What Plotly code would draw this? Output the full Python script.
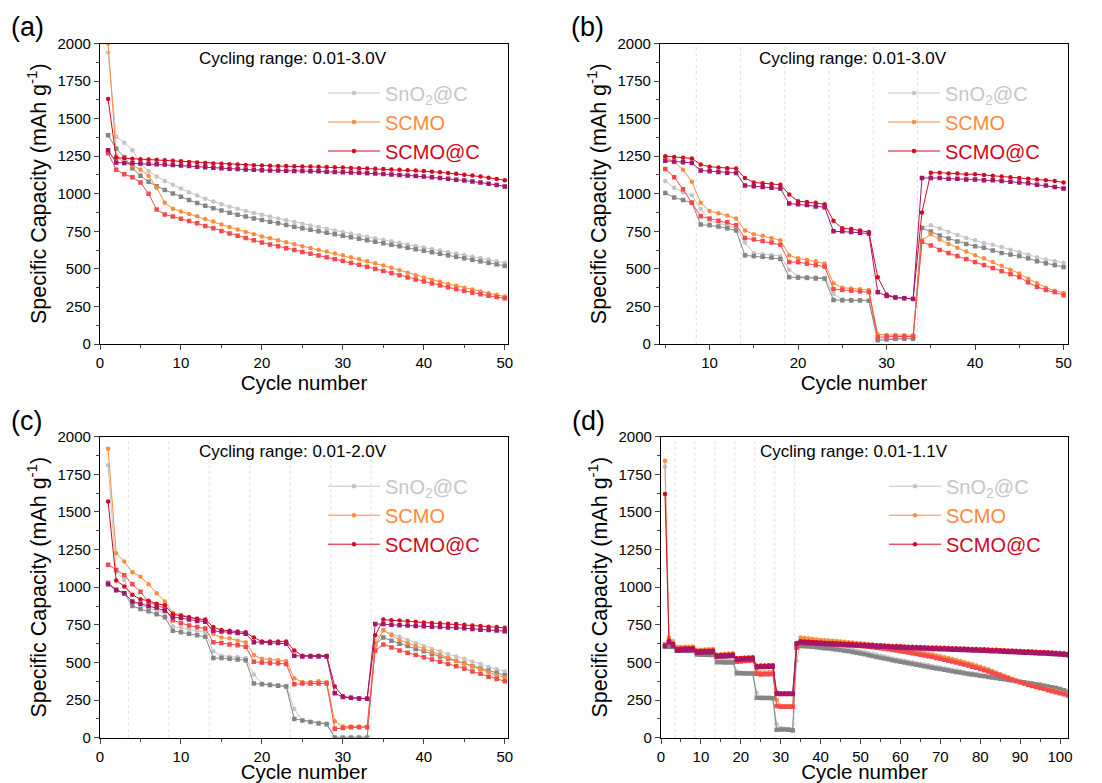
import plotly.graph_objects as go

# ---------------- data ----------------
cycles_a = list(range(1, 51))
a_sno2_charge = [1940, 1380, 1340, 1290, 1200, 1150, 1115, 1085, 1060, 1035,
                 1010, 988, 966, 948, 930, 914, 900, 886, 872, 860,
                 848, 836, 824, 812, 800, 789, 778, 767, 756, 745,
                 735, 724, 714, 704, 694, 684, 674, 663, 652, 642,
                 632, 622, 612, 602, 592, 582, 572, 562, 551, 540]
a_sno2_dis = [1390, 1300, 1245, 1170, 1120, 1080, 1050, 1025, 1002, 980,
              958, 938, 920, 904, 888, 874, 860, 848, 836, 825,
              814, 803, 792, 781, 770, 760, 750, 740, 730, 720,
              710, 700, 690, 680, 670, 660, 650, 640, 630, 620,
              610, 600, 590, 580, 570, 560, 550, 540, 530, 520]
a_scmo_charge = [2000, 1250, 1205, 1190, 1160, 1120, 1040, 940, 900, 882,
                 866, 850, 832, 815, 796, 778, 762, 746, 731, 716,
                 703, 690, 677, 664, 651, 639, 627, 615, 603, 591,
                 578, 565, 551, 537, 522, 507, 491, 474, 458, 442,
                 428, 414, 400, 387, 374, 362, 350, 338, 327, 316]
a_scmo_dis = [1270, 1160, 1130, 1110, 1075, 1000, 895, 862, 848, 834,
              818, 803, 786, 770, 752, 735, 720, 705, 690, 676,
              663, 650, 637, 625, 613, 601, 589, 577, 565, 553,
              540, 527, 514, 500, 486, 472, 457, 443, 429, 416,
              403, 390, 377, 365, 353, 342, 331, 321, 312, 304]
a_scmoc_charge = [1630, 1240, 1236, 1233, 1230, 1228, 1226, 1223, 1220, 1216,
                  1212, 1208, 1205, 1202, 1199, 1196, 1194, 1192, 1190, 1188,
                  1186, 1185, 1184, 1183, 1182, 1181, 1180, 1178, 1176, 1174,
                  1172, 1170, 1168, 1166, 1164, 1162, 1160, 1157, 1154, 1151,
                  1147, 1143, 1138, 1133, 1127, 1121, 1114, 1107, 1099, 1090]
a_scmoc_dis = [1290, 1208, 1205, 1203, 1201, 1199, 1197, 1195, 1192, 1188,
               1184, 1180, 1176, 1173, 1170, 1167, 1164, 1161, 1159, 1157,
               1155, 1154, 1153, 1152, 1151, 1150, 1149, 1147, 1145, 1143,
               1141, 1139, 1137, 1134, 1131, 1128, 1125, 1122, 1118, 1114,
               1110, 1105, 1100, 1094, 1088, 1082, 1075, 1067, 1058, 1048]

cycles_b = list(range(5, 51))
b_sno2_charge = [1085, 1040, 1010, 990, 900, 820, 805, 790, 770, 675,
                 605, 598, 592, 586, 495, 450, 446, 444, 440, 335,
                 296, 294, 292, 290, 32, 36, 40, 40, 40, 775,
                 790, 768, 745, 725, 706, 690, 672, 660, 645, 627,
                 612, 594, 578, 563, 552, 540]
b_sno2_dis = [1005, 975, 958, 940, 795, 790, 782, 770, 755, 590,
              585, 580, 575, 566, 445, 442, 440, 436, 435, 293,
              291, 290, 290, 288, 25, 30, 34, 35, 35, 772,
              748, 722, 702, 683, 666, 650, 640, 622, 606, 595,
              585, 570, 551, 537, 525, 512]
b_scmo_charge = [1245, 1210, 1160, 1080, 940, 885, 870, 855, 835, 755,
                 730, 720, 705, 690, 590, 570, 560, 550, 535, 405,
                 375, 370, 365, 360, 65, 60, 60, 58, 58, 690,
                 730, 695, 665, 640, 615, 590, 570, 545, 520, 495,
                 470, 435, 405, 375, 355, 340]
b_scmo_dis = [1165, 1110, 1030, 940, 850, 835, 820, 810, 790, 705,
              695, 685, 675, 660, 545, 545, 535, 525, 515, 365,
              360, 355, 350, 345, 45, 50, 50, 50, 50, 680,
              655, 625, 605, 585, 565, 545, 525, 505, 485, 465,
              445, 410, 380, 360, 345, 325]
b_scmoc_charge = [1250, 1245, 1240, 1235, 1195, 1180, 1175, 1170, 1168, 1105,
                  1075, 1070, 1065, 1060, 995, 950, 945, 940, 930, 820,
                  770, 765, 755, 745, 445, 330, 310, 305, 300, 875,
                  1140, 1140, 1135, 1135, 1130, 1130, 1125, 1120, 1115, 1110,
                  1105, 1100, 1095, 1090, 1085, 1075]
b_scmoc_dis = [1220, 1215, 1210, 1205, 1155, 1150, 1145, 1140, 1138, 1055,
               1050, 1045, 1040, 1035, 935, 930, 925, 915, 910, 750,
               750, 745, 740, 735, 345, 320, 310, 305, 300, 1105,
               1105, 1105, 1100, 1100, 1095, 1095, 1090, 1090, 1085, 1080,
               1075, 1070, 1060, 1055, 1045, 1035]

cycles_c = list(range(1, 51))
c_sno2_charge = [1810, 1100, 1050, 900, 880, 860, 845, 830, 740, 730,
                 720, 710, 700, 575, 545, 540, 535, 530, 420, 360,
                 355, 350, 345, 190, 115, 105, 100, 95, 5, 5,
                 5, 5, 5, 640, 710, 690, 670, 650, 630, 610,
                 590, 575, 555, 540, 525, 505, 490, 470, 455, 440]
c_sno2_dis = [1030, 985, 960, 875, 855, 840, 820, 800, 710, 700,
              690, 680, 670, 530, 530, 525, 520, 515, 360, 355,
              350, 345, 340, 125, 115, 105, 95, 90, 0, 0,
              0, 0, 0, 620, 665, 645, 625, 610, 590, 575,
              555, 540, 525, 510, 495, 475, 460, 445, 430, 415]
c_scmo_charge = [1920, 1225, 1170, 1100, 1070, 1020, 960, 905, 830, 815,
                 800, 790, 780, 690, 665, 660, 645, 635, 550, 525,
                 520, 515, 510, 395, 370, 370, 375, 370, 110, 75,
                 75, 75, 72, 610, 715, 680, 650, 630, 610, 590,
                 570, 550, 530, 510, 495, 475, 455, 435, 415, 400]
c_scmo_dis = [1150, 1115, 1080, 1020, 970, 900, 880, 860, 780, 760,
              745, 735, 725, 635, 630, 620, 615, 605, 505, 500,
              495, 495, 490, 355, 360, 360, 360, 360, 60, 65,
              70, 70, 70, 580, 620, 600, 580, 565, 550, 535,
              520, 505, 490, 475, 460, 440, 425, 405, 390, 375]
c_scmoc_charge = [1570, 1045, 1005, 950, 920, 910, 890, 880, 820, 810,
                  800, 790, 785, 735, 715, 710, 705, 700, 665, 640,
                  640, 640, 640, 580, 545, 545, 545, 545, 340, 275,
                  265, 262, 260, 680, 785, 780, 778, 775, 770, 765,
                  762, 760, 757, 755, 750, 745, 742, 738, 735, 730]
c_scmoc_dis = [1020, 980, 960, 905, 890, 875, 865, 845, 800, 795,
               785, 775, 770, 710, 705, 700, 695, 690, 635, 635,
               630, 630, 625, 545, 540, 540, 540, 540, 295, 270,
               265, 260, 258, 755, 755, 750, 748, 745, 742, 740,
               737, 735, 732, 730, 727, 722, 718, 715, 712, 708]

cycles_d = list(range(1, 103))
d_sno2_charge = [1800, 660, 645, 600, 598, 597, 596, 595, 575, 573,
                 572, 571, 570, 525, 522, 520, 519, 518, 440, 432,
                 431, 430, 430, 300, 268, 266, 265, 264, 90, 62,
                 60, 58, 55, 510, 630, 628, 626, 623, 620, 617,
                 614, 611, 607, 603, 599, 595, 590, 585, 580, 575,
                 569, 563, 557, 551, 545, 539, 533, 527, 522, 516,
                 511, 506, 501, 496, 491, 486, 481, 476, 471, 466,
                 461, 456, 451, 446, 442, 437, 432, 428, 423, 419,
                 414, 410, 405, 401, 396, 392, 387, 383, 378, 374,
                 369, 365, 360, 356, 351, 346, 341, 336, 330, 324,
                 318, 310]
d_sno2_dis = [605, 605, 603, 578, 577, 577, 576, 576, 552, 551,
              551, 550, 550, 502, 501, 500, 500, 499, 428, 428,
              427, 427, 427, 265, 264, 263, 263, 262, 52, 55,
              54, 52, 48, 600, 610, 608, 606, 604, 601, 598,
              595, 592, 589, 586, 582, 578, 574, 569, 564, 559,
              554, 548, 543, 537, 532, 526, 521, 515, 510, 505,
              500, 495, 490, 485, 480, 475, 470, 465, 460, 456,
              451, 446, 442, 437, 433, 429, 424, 420, 416, 412,
              408, 404, 400, 396, 392, 388, 384, 380, 376, 372,
              368, 364, 360, 355, 351, 346, 341, 336, 330, 323,
              316, 300]
d_scmo_charge = [1840, 665, 632, 602, 603, 604, 605, 606, 583, 585,
                 586, 588, 590, 552, 555, 557, 559, 561, 528, 530,
                 532, 534, 536, 440, 433, 434, 435, 436, 250, 212,
                 210, 210, 210, 610, 665, 662, 659, 656, 653, 650,
                 648, 646, 644, 642, 640, 637, 635, 632, 630, 627,
                 624, 621, 618, 615, 612, 608, 604, 600, 596, 592,
                 588, 583, 578, 573, 568, 563, 558, 552, 547, 541,
                 535, 529, 523, 516, 509, 502, 495, 488, 480, 472,
                 463, 454, 444, 434, 423, 412, 401, 390, 379, 369,
                 360, 352, 345, 338, 332, 326, 320, 314, 308, 302,
                 296, 290]
d_scmo_dis = [620, 640, 615, 590, 591, 592, 593, 594, 568, 570,
              572, 574, 576, 538, 540, 542, 544, 546, 505, 507,
              509, 511, 513, 425, 420, 421, 422, 423, 210, 205,
              205, 205, 205, 600, 640, 638, 636, 634, 632, 630,
              628, 626, 624, 622, 620, 618, 616, 614, 612, 610,
              607, 604, 601, 598, 595, 591, 587, 583, 579, 575,
              571, 566, 561, 556, 551, 546, 541, 536, 530, 524,
              518, 512, 506, 500, 493, 486, 479, 472, 465, 457,
              449, 440, 431, 422, 413, 404, 395, 386, 377, 368,
              360, 352, 344, 337, 330, 323, 316, 309, 302, 295,
              288, 280]
d_scmoc_charge = [1620, 645, 625, 590, 591, 592, 593, 594, 575, 576,
                  577, 578, 579, 548, 549, 550, 551, 552, 528, 530,
                  531, 532, 533, 478, 479, 480, 481, 482, 300, 295,
                  295, 295, 295, 630, 641, 639, 638, 636, 634, 632,
                  631, 630, 629, 628, 626, 625, 624, 623, 621, 620,
                  619, 618, 617, 615, 614, 613, 611, 610, 609, 607,
                  606, 605, 604, 603, 602, 601, 600, 599, 599, 598,
                  597, 596, 595, 594, 593, 592, 591, 590, 589, 588,
                  587, 586, 585, 584, 583, 581, 580, 579, 577, 576,
                  575, 574, 573, 571, 570, 569, 567, 566, 564, 563,
                  561, 558]
d_scmoc_dis = [610, 632, 612, 580, 581, 582, 583, 584, 565, 566,
               567, 568, 569, 540, 541, 542, 543, 544, 518, 520,
               521, 522, 523, 468, 469, 470, 471, 472, 292, 290,
               290, 290, 290, 622, 632, 630, 628, 627, 625, 624,
               622, 621, 620, 619, 617, 616, 615, 614, 612, 611,
               610, 609, 607, 606, 605, 604, 602, 601, 600, 598,
               597, 596, 595, 594, 593, 592, 591, 590, 589, 588,
               587, 586, 585, 584, 583, 582, 581, 580, 579, 578,
               577, 576, 575, 574, 573, 571, 570, 569, 567, 566,
               565, 564, 563, 561, 560, 559, 557, 556, 554, 553,
               551, 548]

rate_bounds_b = [8.5, 13.5, 18.5, 23.5, 28.5, 33.5]
rate_bounds_cd = [3.5, 8.5, 13.5, 18.5, 23.5, 28.5, 33.5]

panel_labels = ["(a)", "(b)", "(c)", "(d)"]
range_texts = ["Cycling range: 0.01-3.0V", "Cycling range: 0.01-3.0V",
               "Cycling range: 0.01-2.0V", "Cycling range: 0.01-1.1V"]
material_names = ["SnO<sub>2</sub>@C", "SCMO", "SCMO@C"]

# ---------------- style ----------------
FONT = "Liberation Sans, Arial, Helvetica, sans-serif"
OFF = 8                      # page body margin of the written html
W, H = 1102 - OFF, 783 - OFF
col_charge = ["#c4c4c4", "#ff8c3c", "#d40a1e"]
col_dis = ["#858585", "#f54a4c", "#a3166a"]
col_text = ["#c6c6c6", "#ff8a3d", "#d0061c"]


def px(xp):
    return (xp - OFF) / W


def py(yp):
    return 1 - (yp - OFF) / H


panels = [
    (cycles_a, [a_sno2_charge, a_scmo_charge, a_scmoc_charge], [a_sno2_dis, a_scmo_dis, a_scmoc_dis]),
    (cycles_b, [b_sno2_charge, b_scmo_charge, b_scmoc_charge], [b_sno2_dis, b_scmo_dis, b_scmoc_dis]),
    (cycles_c, [c_sno2_charge, c_scmo_charge, c_scmoc_charge], [c_sno2_dis, c_scmo_dis, c_scmoc_dis]),
    (cycles_d, [d_sno2_charge, d_scmo_charge, d_scmoc_charge], [d_sno2_dis, d_scmo_dis, d_scmoc_dis]),
]

# page-pixel boxes (left, right, top, bottom)
boxes = [(100, 508, 43.5, 344), (660, 1068, 43.5, 344),
         (100, 508, 436.7, 737.7), (661, 1068, 436.7, 737.7)]
xranges = [[0, 50.4], [4.4, 50.5], [0, 50.4], [0, 102]]
vlines = [[], rate_bounds_b, rate_bounds_cd, rate_bounds_cd]

fig = go.Figure()
layout = dict(width=W, height=H, margin=dict(l=0, r=0, t=0, b=0, autoexpand=False),
              paper_bgcolor="white", plot_bgcolor="white",
              font=dict(family=FONT, color="black"), showlegend=True)
annotations = []
shapes = []

for i, (cyc, charges, diss) in enumerate(panels):
    n = "" if i == 0 else str(i + 1)
    xa, ya = "x" + n, "y" + n
    lg = "legend" + n
    for m in range(3):
        fig.add_trace(go.Scatter(
            x=cyc, y=charges[m], xaxis=xa, yaxis=ya, mode="lines+markers",
            line=dict(color=col_charge[m], width=1),
            marker=dict(symbol="circle", size=4.5, color=col_charge[m]),
            name="<span style='color:%s'>%s</span>" % (col_text[m], material_names[m]),
            legend=lg, showlegend=True))
        fig.add_trace(go.Scatter(
            x=cyc, y=diss[m], xaxis=xa, yaxis=ya, mode="lines+markers",
            line=dict(color=col_dis[m], width=1),
            marker=dict(symbol="square", size=4.5, color=col_dis[m]),
            name=material_names[m], legend=lg, showlegend=False))

    l, r, t, b = boxes[i]
    layout["xaxis" + n] = dict(
        domain=[px(l), px(r)], range=xranges[i], anchor=ya, showline=True, linecolor="black",
        linewidth=1.3, mirror=True, ticks="outside", ticklen=5, tickwidth=1.2,
        dtick=10, tick0=0, showgrid=False, zeroline=False, automargin=False,
        tickfont=dict(size=15, family=FONT),
        minor=dict(ticks="outside", ticklen=3, dtick=5, tick0=0, tickwidth=1),
        title=dict(text="Cycle number", font=dict(size=20.5, family=FONT), standoff=3))
    layout["yaxis" + n] = dict(
        domain=[py(b), py(t)], range=[0, 2000], anchor=xa, showline=True, linecolor="black",
        linewidth=1.3, mirror=True, ticks="outside", ticklen=5, tickwidth=1.2,
        dtick=250, tick0=0, showgrid=False, zeroline=False, automargin=False,
        tickfont=dict(size=15, family=FONT),
        minor=dict(ticks="outside", ticklen=3, dtick=125, tick0=0, tickwidth=1),
        title=dict(text="Specific Capacity (mAh g<sup>-1</sup>)",
                   font=dict(size=21.5, family=FONT), standoff=4))
    layout[lg] = dict(x=px(l + 223), y=py(t + 30), xanchor="left", yanchor="top",
                      font=dict(size=20, family=FONT), bgcolor="rgba(0,0,0,0)",
                      borderwidth=0, tracegroupgap=0, itemwidth=52)
    for v in vlines[i]:
        shapes.append(dict(type="line", xref=xa, yref=ya + " domain", x0=v, x1=v, y0=0, y1=1,
                           line=dict(color="#dedede", width=1, dash="dot"), layer="below"))
    annotations.append(dict(text=range_texts[i], xref="paper", yref="paper",
                            x=px(l + 193), y=py(t + 15), xanchor="center", yanchor="middle",
                            showarrow=False, font=dict(size=17, family=FONT)))
    annotations.append(dict(text=panel_labels[i], xref="paper", yref="paper",
                            x=px(l - 91), y=py(t - 16), xanchor="left", yanchor="middle",
                            showarrow=False, font=dict(size=27, family=FONT)))

layout["annotations"] = annotations
layout["shapes"] = shapes
fig.update_layout(**layout)
fig.write_html("out.html")
